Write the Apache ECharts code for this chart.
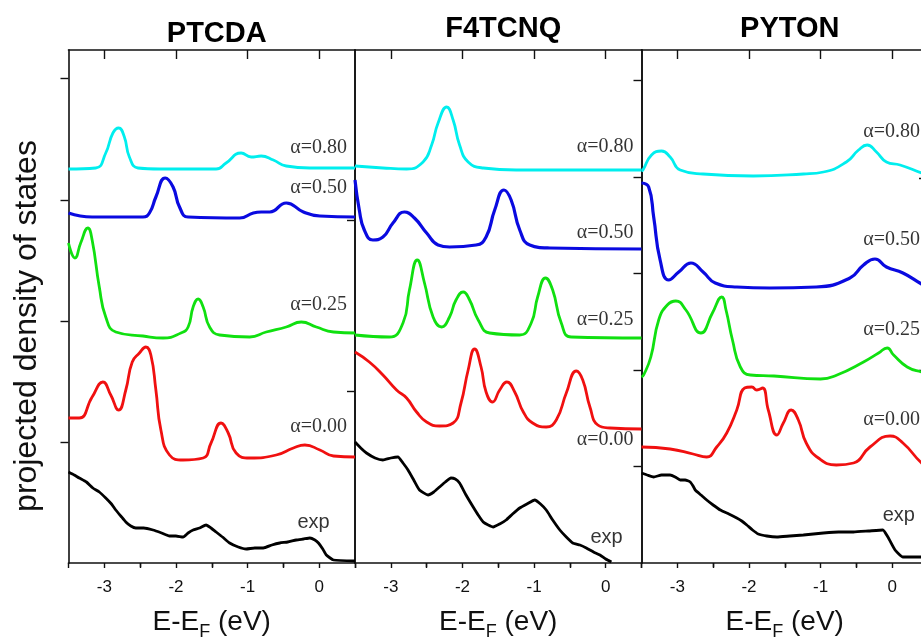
<!DOCTYPE html>
<html>
<head>
<meta charset="utf-8">
<script src="https://cdn.jsdelivr.net/npm/echarts@6/dist/echarts.min.js"></script>
<style>
html,body{margin:0;padding:0;background:#fff;}
#main{width:921px;height:637px;}
</style>
</head>
<body>
<div id="main"></div>
<script>
// energy axis (eV) and tick labels
const xTicks = [-3, -2, -1, 0];
const xMinor = [-2.5, -1.5, -0.5];
const titles = ['PTCDA', 'F4TCNQ', 'PYTON'];
const curveNames = ['α=0.80', 'α=0.50', 'α=0.25', 'α=0.00', 'exp'];

// ---- PTCDA ----
const ptcda080 = [[-3.5,3.94],[-3.12,3.95],[-2.98,4.10],[-2.88,4.30],[-2.80,4.35],[-2.72,4.26],[-2.65,4.06],[-2.53,3.95],[-2.23,3.94],[-1.44,3.94],[-1.30,4.00],[-1.09,4.10],[-0.95,4.06],[-0.81,4.07],[-0.64,4.03],[-0.46,3.97],[-0.13,3.95],[0.5,3.95]];
const ptcda050 = [[-3.5,3.50],[-3.17,3.46],[-2.46,3.46],[-2.37,3.50],[-2.28,3.66],[-2.15,3.85],[-2.04,3.76],[-1.95,3.56],[-1.83,3.46],[-1.11,3.45],[-0.92,3.50],[-0.81,3.51],[-0.69,3.51],[-0.46,3.60],[-0.22,3.51],[0.01,3.47],[0.5,3.46]];
const ptcda025 = [[-3.5,3.20],[-3.41,3.05],[-3.33,3.20],[-3.23,3.35],[-3.17,3.23],[-3.07,2.76],[-2.98,2.46],[-2.84,2.31],[-2.46,2.27],[-2.18,2.25],[-1.93,2.30],[-1.83,2.36],[-1.76,2.56],[-1.69,2.64],[-1.62,2.56],[-1.53,2.36],[-1.39,2.28],[-0.97,2.26],[-0.74,2.31],[-0.46,2.36],[-0.25,2.41],[-0.04,2.36],[0.20,2.31],[0.5,2.30]];
const ptcda000 = [[-3.5,1.45],[-3.35,1.45],[-3.17,1.66],[-3.02,1.81],[-2.91,1.68],[-2.80,1.53],[-2.70,1.73],[-2.61,2.01],[-2.51,2.10],[-2.42,2.16],[-2.35,2.08],[-2.28,1.73],[-2.21,1.33],[-2.09,1.08],[-1.90,1.03],[-1.62,1.05],[-1.51,1.20],[-1.37,1.40],[-1.27,1.30],[-1.16,1.10],[-0.97,1.05],[-0.60,1.08],[-0.36,1.15],[-0.20,1.18],[0.01,1.13],[0.20,1.07],[0.5,1.06]];
const ptcdaExp = [[-3.5,0.91],[-3.42,0.88],[-3.35,0.85],[-3.25,0.81],[-3.16,0.75],[-3.07,0.71],[-2.98,0.65],[-2.90,0.59],[-2.84,0.53],[-2.77,0.47],[-2.70,0.41],[-2.63,0.37],[-2.56,0.35],[-2.45,0.35],[-2.32,0.33],[-2.20,0.30],[-2.09,0.27],[-2.00,0.27],[-1.90,0.26],[-1.83,0.30],[-1.76,0.33],[-1.67,0.35],[-1.58,0.38],[-1.51,0.35],[-1.44,0.31],[-1.35,0.26],[-1.25,0.20],[-1.13,0.16],[-1.02,0.14],[-0.90,0.15],[-0.78,0.15],[-0.66,0.18],[-0.55,0.20],[-0.44,0.21],[-0.32,0.23],[-0.22,0.24],[-0.13,0.25],[-0.06,0.23],[-0.01,0.20],[0.05,0.14],[0.10,0.08],[0.20,0.03],[0.5,0.02]];

// ---- F4TCNQ ----
const f4080 = [[-3.5,3.97],[-3.11,3.95],[-2.78,3.94],[-2.55,4.01],[-2.43,4.18],[-2.34,4.40],[-2.22,4.56],[-2.13,4.43],[-2.04,4.18],[-1.92,4.01],[-1.71,3.95],[-1.25,3.93],[0.5,3.93]];
const f4050 = [[-3.5,3.83],[-3.44,3.53],[-3.37,3.33],[-3.25,3.23],[-3.11,3.26],[-2.97,3.40],[-2.81,3.51],[-2.67,3.45],[-2.50,3.30],[-2.34,3.18],[-2.18,3.16],[-1.81,3.18],[-1.67,3.26],[-1.55,3.53],[-1.42,3.73],[-1.32,3.63],[-1.20,3.33],[-1.06,3.18],[-0.78,3.15],[0.5,3.14]];
const f4025 = [[-3.5,2.28],[-3.02,2.26],[-2.83,2.40],[-2.74,2.73],[-2.63,3.03],[-2.53,2.80],[-2.41,2.46],[-2.29,2.36],[-2.18,2.46],[-2.09,2.63],[-1.99,2.71],[-1.90,2.63],[-1.78,2.43],[-1.62,2.30],[-1.20,2.28],[-1.04,2.40],[-0.95,2.66],[-0.84,2.85],[-0.74,2.73],[-0.62,2.40],[-0.48,2.26],[0.5,2.25]];
const f4000 = [[-3.5,2.11],[-3.30,2.01],[-3.11,1.88],[-2.92,1.73],[-2.78,1.65],[-2.64,1.51],[-2.50,1.41],[-2.32,1.37],[-2.13,1.40],[-2.02,1.60],[-1.92,1.93],[-1.83,2.14],[-1.74,1.96],[-1.67,1.71],[-1.58,1.61],[-1.48,1.73],[-1.38,1.81],[-1.27,1.71],[-1.15,1.51],[-1.02,1.40],[-0.83,1.36],[-0.69,1.43],[-0.55,1.70],[-0.41,1.92],[-0.32,1.83],[-0.22,1.56],[-0.11,1.38],[0.06,1.35],[0.5,1.34]];
const f4Exp = [[-3.5,1.21],[-3.42,1.15],[-3.34,1.10],[-3.22,1.05],[-3.11,1.03],[-3.00,1.05],[-2.90,1.06],[-2.83,1.00],[-2.76,0.93],[-2.68,0.83],[-2.60,0.73],[-2.48,0.68],[-2.40,0.71],[-2.32,0.76],[-2.24,0.81],[-2.16,0.85],[-2.10,0.84],[-2.04,0.80],[-1.95,0.68],[-1.85,0.56],[-1.78,0.48],[-1.71,0.41],[-1.64,0.38],[-1.57,0.36],[-1.48,0.39],[-1.39,0.43],[-1.30,0.49],[-1.20,0.55],[-1.10,0.59],[-0.99,0.63],[-0.91,0.59],[-0.83,0.53],[-0.74,0.43],[-0.64,0.33],[-0.55,0.26],[-0.46,0.20],[-0.36,0.18],[-0.27,0.15],[-0.17,0.11],[-0.08,0.08],[0.00,0.04],[0.08,0.01]];

// ---- PYTON ----
const py080 = [[-3.5,3.92],[-3.48,3.93],[-3.36,4.08],[-3.22,4.12],[-3.10,4.06],[-2.96,3.93],[-2.64,3.89],[-1.94,3.87],[-1.24,3.89],[-0.96,3.91],[-0.64,4.01],[-0.47,4.13],[-0.35,4.18],[-0.22,4.11],[-0.08,4.01],[0.11,3.98],[0.41,3.90],[0.5,3.88]];
const py050 = [[-3.5,3.80],[-3.40,3.76],[-3.33,3.46],[-3.24,3.03],[-3.12,2.83],[-2.98,2.91],[-2.81,3.00],[-2.64,2.91],[-2.47,2.80],[-2.17,2.76],[-1.71,2.75],[-1.06,2.76],[-0.59,2.85],[-0.40,2.98],[-0.24,3.04],[-0.08,2.96],[0.15,2.90],[0.41,2.79],[0.5,2.76]];
const py025 = [[-3.5,1.86],[-3.47,1.88],[-3.37,2.06],[-3.26,2.43],[-3.14,2.58],[-3.02,2.62],[-2.88,2.53],[-2.67,2.30],[-2.51,2.50],[-2.38,2.66],[-2.32,2.53],[-2.23,2.23],[-2.12,1.96],[-1.98,1.88],[-1.65,1.87],[-1.00,1.84],[-0.77,1.88],[-0.40,2.01],[-0.19,2.10],[-0.07,2.15],[0.02,2.08],[0.21,1.96],[0.41,1.91],[0.5,1.90]];
const py000 = [[-3.5,1.16],[-3.10,1.14],[-2.78,1.09],[-2.59,1.06],[-2.45,1.16],[-2.31,1.30],[-2.17,1.53],[-2.06,1.75],[-1.96,1.76],[-1.89,1.73],[-1.81,1.75],[-1.73,1.53],[-1.61,1.28],[-1.52,1.40],[-1.41,1.53],[-1.31,1.43],[-1.20,1.20],[-1.03,1.05],[-0.78,0.98],[-0.54,1.00],[-0.31,1.16],[-0.03,1.27],[0.15,1.20],[0.41,1.00],[0.5,0.97]];
const pyExp = [[-3.5,0.90],[-3.42,0.88],[-3.33,0.86],[-3.22,0.88],[-3.10,0.88],[-3.03,0.86],[-2.96,0.83],[-2.89,0.83],[-2.82,0.81],[-2.78,0.77],[-2.75,0.73],[-2.67,0.68],[-2.59,0.63],[-2.50,0.58],[-2.40,0.53],[-2.28,0.49],[-2.17,0.45],[-2.10,0.42],[-2.03,0.38],[-1.95,0.33],[-1.87,0.29],[-1.75,0.27],[-1.61,0.26],[-1.43,0.27],[-1.24,0.28],[-1.10,0.29],[-0.96,0.30],[-0.75,0.31],[-0.54,0.31],[-0.33,0.32],[-0.13,0.33],[-0.06,0.26],[0.04,0.13],[0.15,0.06],[0.41,0.06],[0.5,0.06]];

// label anchors (data units) and y tick values for each panel
const ptcdaLabelY = [4.15, 3.75, 2.58, 1.36, 0.41];
const f4LabelY = [4.16, 3.30, 2.43, 1.23, 0.26];
const pyLabelY = [4.31, 3.23, 2.33, 1.43, 0.48];
const alphaLabelX = -0.41;
const expLabelX = [-0.31, -0.22, -0.14];
const ptcdaYTicks = [1.21, 2.42, 3.63, 4.85];
const f4YTicks = [1.72, 3.43];
const pyYTicks = [0.97, 1.93, 2.90, 3.86, 4.83];
const pyRightTicks = [1.93, 3.85];

const colors = ['#00eeee', '#0a0ae0', '#10e010', '#f01010', '#000000'];
const sans = '"Liberation Sans", Arial, sans-serif';
const serif = '"Liberation Serif", "Times New Roman", serif';
const ink = '#111';

const panels = [
  {curves: [ptcda080, ptcda050, ptcda025, ptcda000, ptcdaExp], labelY: ptcdaLabelY, yTicks: ptcdaYTicks, rightTicks: [], left: 68.5, width: 286.5, titleTop: 14},
  {curves: [f4080, f4050, f4025, f4000, f4Exp], labelY: f4LabelY, yTicks: f4YTicks, rightTicks: [], left: 355, width: 286.5, titleTop: 9},
  {curves: [py080, py050, py025, py000, pyExp], labelY: pyLabelY, yTicks: pyYTicks, rightTicks: pyRightTicks, left: 641.5, width: 286.5, titleTop: 9}
];

const chart = echarts.init(document.getElementById('main'), null, {renderer: 'canvas'});

const grid = [], xAxis = [], yAxis = [], series = [], title = [];
const axisLine = {show: true, onZero: false, lineStyle: {color: ink, width: 1.6}};

panels.forEach(function (p, i) {
  // outerBoundsMode none: keep the box exactly where it is, labels may overflow
  grid.push({left: p.left, top: 50, width: p.width, height: 513, containLabel: false, outerBoundsMode: 'none'});
  title.push({
    text: titles[i], left: p.left + p.width / 2, top: p.titleTop, textAlign: 'center',
    textStyle: {fontFamily: sans, fontWeight: 'bold', fontSize: 29, color: '#000'}
  });
  // bottom axis
  xAxis.push({
    gridIndex: i, type: 'value', min: -3.5, max: 0.5, interval: 0.5, position: 'bottom',
    axisLine: axisLine,
    axisTick: {show: true, inside: false, length: 5, lineStyle: {color: ink, width: 1.4}},
    axisLabel: {
      show: true, margin: 16, fontFamily: sans, fontSize: 17, color: ink,
      formatter: function (v) { return xTicks.indexOf(v) >= 0 ? String(v) : ''; }
    },
    splitLine: {show: false},
    name: 'E-E{sub|F} (eV)', nameLocation: 'middle', nameGap: 40,
    nameTextStyle: {fontFamily: sans, fontSize: 28, color: ink,
      rich: {sub: {fontFamily: sans, fontSize: 18, color: ink, padding: [20, 0, 0, 0]}}}
  });
  // top axis, major ticks
  xAxis.push({
    gridIndex: i, type: 'value', min: -3.5, max: 0.5, position: 'top',
    axisLine: axisLine,
    axisTick: {show: true, inside: true, length: 9, customValues: xTicks, lineStyle: {color: ink, width: 1.4}},
    axisLabel: {show: false}, splitLine: {show: false}
  });
  // top axis, minor ticks
  xAxis.push({
    gridIndex: i, type: 'value', min: -3.5, max: 0.5, position: 'top',
    axisLine: {show: false},
    axisTick: {show: true, inside: true, length: 4, customValues: xMinor, lineStyle: {color: ink, width: 1.4}},
    axisLabel: {show: false}, splitLine: {show: false}
  });
  yAxis.push({
    gridIndex: i, type: 'value', min: 0, max: 5.13, position: 'left',
    axisLine: axisLine,
    axisTick: {show: true, inside: false, length: 8, customValues: p.yTicks, lineStyle: {color: ink, width: 1.4}},
    axisLabel: {show: false}, splitLine: {show: false}
  });
  yAxis.push({
    gridIndex: i, type: 'value', min: 0, max: 5.13, position: 'right',
    axisLine: axisLine,
    axisTick: {show: p.rightTicks.length > 0, inside: true, length: 9, customValues: p.rightTicks.length ? p.rightTicks : [0], lineStyle: {color: ink, width: 1.4}},
    axisLabel: {show: false}, splitLine: {show: false}
  });

  p.curves.forEach(function (data, k) {
    series.push({
      type: 'line', xAxisIndex: i * 3, yAxisIndex: i * 2, data: data,
      showSymbol: false, symbol: 'none', smooth: k === 4 ? 0.15 : 0.5,
      lineStyle: {color: colors[k], width: k === 1 ? 3.2 : 2.8},
      silent: true, animation: false, z: 3
    });
  });

  // curve labels: serif for alpha values, sans-serif for "exp"
  const labels = curveNames.map(function (name, k) {
    return {
      value: [k === 4 ? expLabelX[i] : alphaLabelX, p.labelY[k], name],
      label: k === 4 ? {fontFamily: sans, fontSize: 20} : {fontFamily: serif, fontSize: 20}
    };
  });
  series.push({
    type: 'scatter', xAxisIndex: i * 3, yAxisIndex: i * 2, data: labels,
    symbolSize: 1, itemStyle: {color: 'rgba(0,0,0,0)'}, silent: true, animation: false, z: 5,
    label: {
      show: true, position: 'right', distance: 0, color: '#000',
      fontFamily: serif, fontSize: 20,
      formatter: function (q) { return q.value[2]; }
    }
  });
});

chart.setOption({
  backgroundColor: '#fff',
  animation: false,
  title: title,
  grid: grid,
  xAxis: xAxis,
  yAxis: yAxis,
  series: series,
  graphic: [{
    type: 'text', x: 27, y: 326, rotation: Math.PI / 2,
    style: {text: 'projected density of states', font: '32px ' + sans, fill: '#111',
      align: 'center', verticalAlign: 'middle', textAlign: 'center', textVerticalAlign: 'middle'}
  }]
});
</script>
</body>
</html>
